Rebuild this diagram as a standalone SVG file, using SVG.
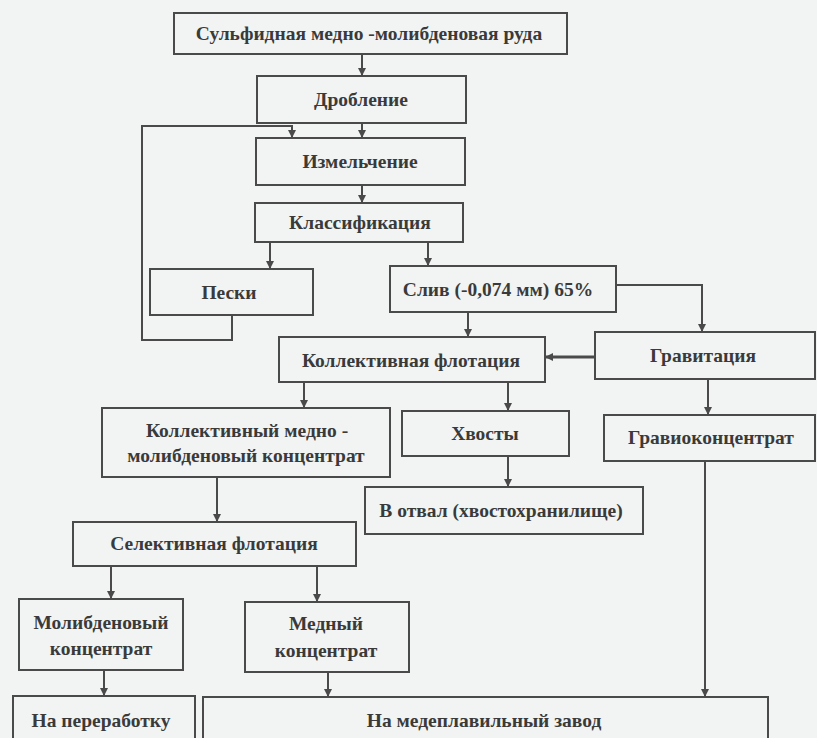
<svg xmlns="http://www.w3.org/2000/svg" width="817" height="738" viewBox="0 0 817 738">
  <style>
    .box { fill: none; stroke: #4a4a4a; stroke-width: 2; }
    .lbl { font-family: "Liberation Serif", "Times New Roman", serif; font-weight: bold; font-size: 19.5px; fill: #3a3a3a; text-anchor: middle; }
    .wire { fill: none; stroke: #4a4a4a; stroke-width: 2; }
    .thick { stroke-width: 3; }
  </style>
  <defs>
    <marker id="arrow" viewBox="0 0 10 10" refX="10" refY="5" markerWidth="8" markerHeight="8" markerUnits="userSpaceOnUse" orient="auto">
      <path d="M0,0 L10,5 L0,10 Z" fill="#4a4a4a"/>
    </marker>
  </defs>

  <!-- paper -->
  <rect x="0" y="0" width="817" height="738" fill="#f1f4f3"/>

  <g id="ore">
    <rect class="box" x="174" y="13" width="393" height="41"/>
    <text class="lbl" x="369" y="40">Сульфидная медно -молибденовая руда</text>
  </g>
  <g id="crushing">
    <rect class="box" x="257" y="76" width="209" height="47"/>
    <text class="lbl" x="361" y="106">Дробление</text>
  </g>
  <g id="grinding">
    <rect class="box" x="256" y="138" width="209" height="47"/>
    <text class="lbl" x="360" y="168">Измельчение</text>
  </g>
  <g id="classification">
    <rect class="box" x="255" y="203" width="208" height="39"/>
    <text class="lbl" x="360" y="229">Классификация</text>
  </g>
  <g id="sands">
    <rect class="box" x="150" y="269" width="163" height="46"/>
    <text class="lbl" x="229" y="299">Пески</text>
  </g>
  <g id="overflow">
    <rect class="box" x="390" y="266" width="226" height="46"/>
    <text class="lbl" x="498" y="296">Слив (-0,074 мм) 65%</text>
  </g>
  <g id="bulk-flotation">
    <rect class="box" x="279" y="337" width="266" height="45"/>
    <text class="lbl" x="411" y="367">Коллективная флотация</text>
  </g>
  <g id="gravity">
    <rect class="box" x="595" y="332" width="220" height="47"/>
    <text class="lbl" x="703" y="362">Гравитация</text>
  </g>
  <g id="bulk-concentrate">
    <rect class="box" x="102" y="408" width="288" height="69"/>
    <text class="lbl" x="247" y="437">Коллективный медно -</text>
    <text class="lbl" x="246" y="462">молибденовый концентрат</text>
  </g>
  <g id="tailings">
    <rect class="box" x="402" y="411" width="167" height="45"/>
    <text class="lbl" x="485" y="440">Хвосты</text>
  </g>
  <g id="gravity-concentrate">
    <rect class="box" x="604" y="415" width="211" height="46"/>
    <text class="lbl" x="711" y="444">Гравиоконцентрат</text>
  </g>
  <g id="dump">
    <rect class="box" x="365" y="487" width="278" height="47"/>
    <text class="lbl" x="501" y="517">В отвал (хвостохранилище)</text>
  </g>
  <g id="selective-flotation">
    <rect class="box" x="73" y="522" width="283" height="44"/>
    <text class="lbl" x="214" y="550">Селективная флотация</text>
  </g>
  <g id="mo-concentrate">
    <rect class="box" x="19" y="599" width="164" height="71"/>
    <text class="lbl" x="101" y="629">Молибденовый</text>
    <text class="lbl" x="101" y="655">концентрат</text>
  </g>
  <g id="cu-concentrate">
    <rect class="box" x="245" y="602" width="164" height="70"/>
    <text class="lbl" x="326" y="630">Медный</text>
    <text class="lbl" x="326" y="657">концентрат</text>
  </g>
  <g id="processing">
    <rect class="box" x="13" y="696" width="182" height="50"/>
    <text class="lbl" x="101" y="727">На переработку</text>
  </g>
  <g id="smelter">
    <rect class="box" x="203" y="697" width="565" height="50"/>
    <text class="lbl" x="484" y="727">На медеплавильный завод</text>
  </g>

  <g id="connectors">
    <line class="wire" x1="362" y1="54" x2="362" y2="76" marker-end="url(#arrow)"/>
    <line class="wire" x1="362" y1="123" x2="362" y2="138" marker-end="url(#arrow)"/>
    <line class="wire" x1="362" y1="185" x2="362" y2="203" marker-end="url(#arrow)"/>
    <line class="wire" x1="270" y1="242" x2="270" y2="269" marker-end="url(#arrow)"/>
    <line class="wire" x1="428" y1="242" x2="428" y2="266" marker-end="url(#arrow)"/>
    <!-- sands returned to grinding -->
    <polyline class="wire" points="232,315 232,340 142,340 142,126 292,126 292,138" marker-end="url(#arrow)"/>
    <line class="wire" x1="468" y1="312" x2="468" y2="337" marker-end="url(#arrow)"/>
    <polyline class="wire" points="616,285 702,285 702,332" marker-end="url(#arrow)"/>
    <line class="wire thick" x1="595" y1="357" x2="545" y2="357" marker-end="url(#arrow)"/>
    <line class="wire" x1="304" y1="382" x2="304" y2="408" marker-end="url(#arrow)"/>
    <line class="wire" x1="508" y1="382" x2="508" y2="411" marker-end="url(#arrow)"/>
    <line class="wire" x1="708" y1="379" x2="708" y2="415" marker-end="url(#arrow)"/>
    <line class="wire" x1="508" y1="456" x2="508" y2="487" marker-end="url(#arrow)"/>
    <line class="wire" x1="217" y1="477" x2="217" y2="522" marker-end="url(#arrow)"/>
    <line class="wire" x1="111" y1="566" x2="111" y2="599" marker-end="url(#arrow)"/>
    <line class="wire" x1="317" y1="566" x2="317" y2="602" marker-end="url(#arrow)"/>
    <line class="wire" x1="104" y1="670" x2="104" y2="696" marker-end="url(#arrow)"/>
    <line class="wire" x1="328" y1="672" x2="328" y2="697" marker-end="url(#arrow)"/>
    <line class="wire" x1="705" y1="461" x2="705" y2="697" marker-end="url(#arrow)"/>
  </g>
</svg>
